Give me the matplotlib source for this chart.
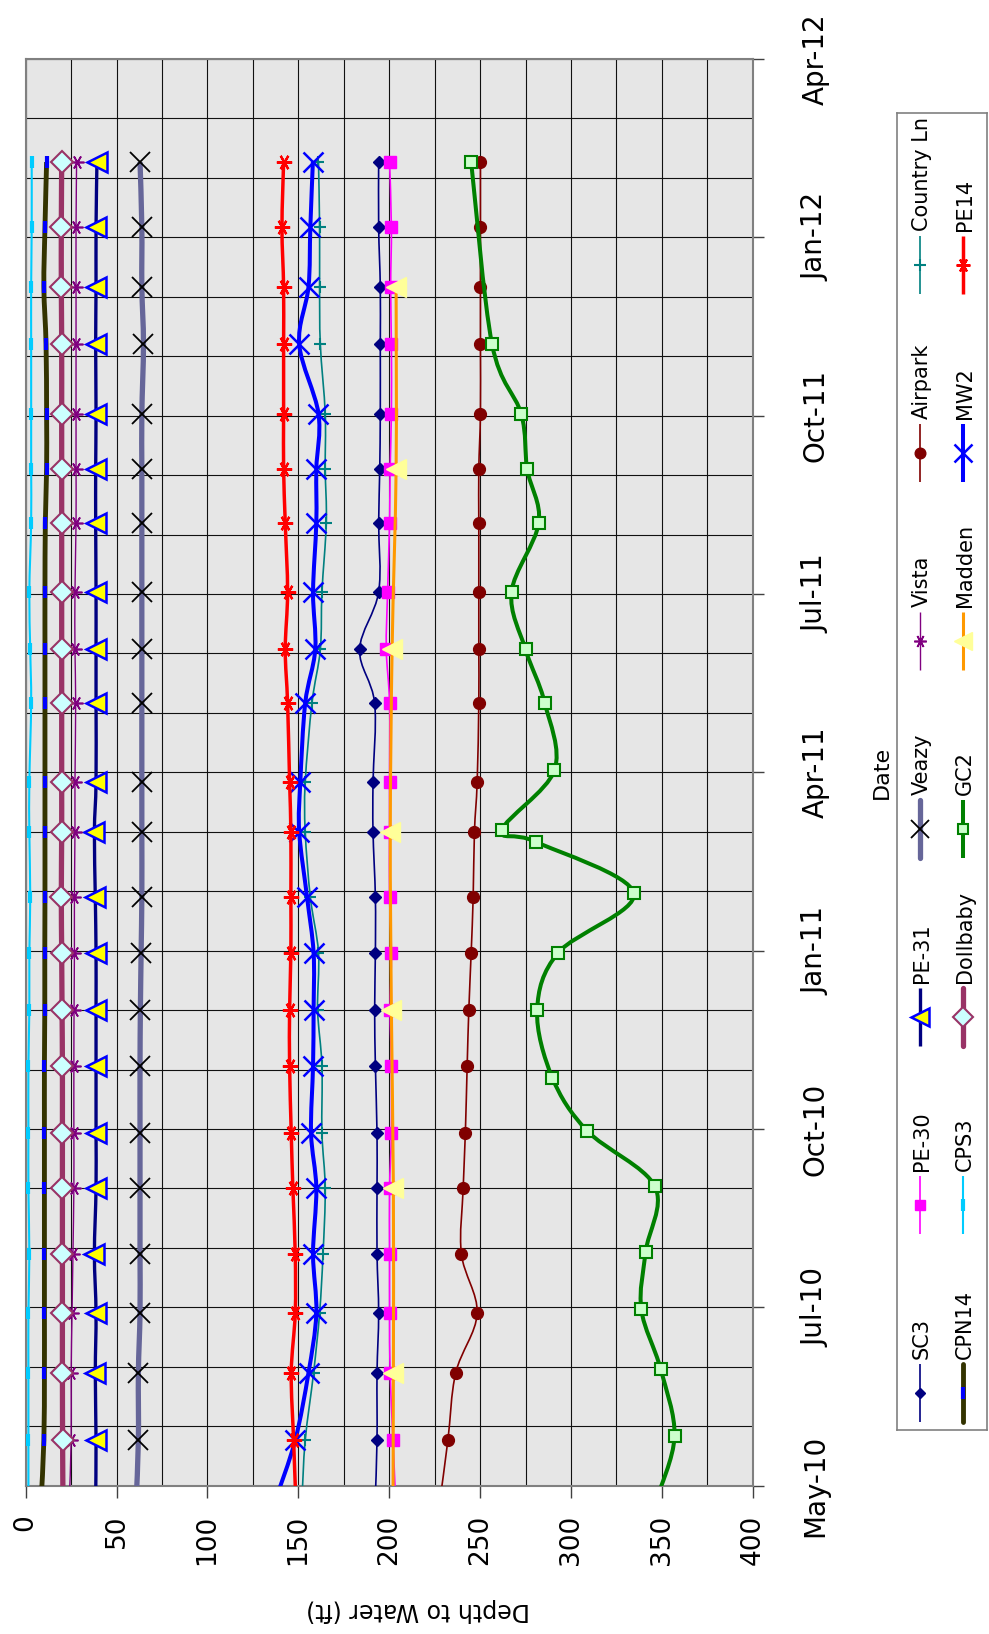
import numpy as np
import matplotlib
matplotlib.use("Agg")
import matplotlib.pyplot as plt
import matplotlib.dates as mdates
from matplotlib.path import Path
from matplotlib.patches import PathPatch
from matplotlib.ticker import FixedLocator, MultipleLocator

# ---------------- data ----------------
# common sampling dates (first one lies just before the visible axis range)
dates = ["2010-04-24", "2010-05-24", "2010-06-27", "2010-07-27", "2010-08-26",
         "2010-09-28", "2010-10-26", "2010-11-29", "2010-12-27", "2011-01-25",
         "2011-02-22", "2011-03-27", "2011-04-21", "2011-05-31", "2011-06-27",
         "2011-07-26", "2011-08-30", "2011-09-26", "2011-10-24", "2011-11-28",
         "2011-12-27", "2012-01-26", "2012-02-28"]

gc2_dates = ["2010-04-24", "2010-05-26", "2010-06-29", "2010-07-29", "2010-08-27",
             "2010-09-29", "2010-10-27", "2010-11-23", "2010-12-27", "2011-01-25",
             "2011-02-24", "2011-03-22", "2011-03-28", "2011-04-27", "2011-05-31",
             "2011-06-27", "2011-07-26", "2011-08-30", "2011-09-26", "2011-10-24",
             "2011-11-28", "2012-02-28"]

madden_dates = ["2010-03-28", "2010-06-27", "2010-09-28", "2010-12-27",
                "2011-03-27", "2011-06-27", "2011-09-26", "2011-12-27"]

sc3 = [192.3, 193.3, 193.3, 194.2, 193.3, 193.3, 193.3, 192.4, 192.0, 192.4, 192.4,
       191.1, 191.1, 192.0, 183.7, 194.2, 194.2, 194.8, 195.1, 195.1, 195.1, 194.2, 194.2]
pe30 = [203.5, 202.1, 200.5, 200.2, 200.2, 200.2, 201.2, 201.2, 200.5, 201.2, 200.2,
        200.2, 200.2, 200.2, 198.4, 199.1, 200.2, 200.5, 201.2, 201.2, 200.8, 201.2, 200.2]
pe31 = [38.5, 38.7, 38.3, 38.7, 37.8, 38.7, 38.7, 38.7, 38.7, 38.7, 38.3,
        37.8, 38.7, 38.7, 38.7, 38.7, 38.5, 38.5, 38.7, 38.5, 38.7, 38.7, 39.2]
veazy = [60.8, 62.0, 62.0, 62.9, 62.9, 62.9, 62.9, 62.9, 63.1, 63.5, 63.9,
         63.9, 63.9, 63.9, 63.9, 63.9, 63.9, 63.9, 63.9, 64.8, 63.9, 63.9, 62.9]
vista = [24.0, 25.0, 25.0, 25.5, 26.0, 26.5, 26.5, 26.5, 26.6, 26.8, 26.8,
         27.1, 27.1, 27.5, 27.1, 27.1, 27.7, 27.7, 27.7, 27.7, 27.7, 27.7, 28.0]
airpark = [228.0, 232.3, 236.6, 248.4, 239.7, 240.7, 241.9, 242.9, 243.8, 245.1, 246.2,
           246.9, 248.4, 249.3, 249.3, 249.3, 249.3, 249.3, 250.2, 250.2, 250.2, 250.2, 250.2]
country_ln = [152.0, 153.8, 158.4, 161.7, 163.6, 164.8, 163.0, 163.0, 160.6, 161.1, 156.6,
              153.8, 153.8, 157.5, 162.1, 163.0, 165.4, 164.8, 164.8, 162.1, 161.7, 161.7, 161.1]
cpn14 = [8.5, 10.0, 10.3, 10.3, 10.3, 10.3, 10.3, 10.3, 10.5, 10.5, 10.6,
         10.6, 10.6, 10.6, 10.6, 10.6, 10.8, 11.5, 11.5, 11.2, 10.0, 10.6, 11.5]
cps3 = [1.5, 1.5, 1.5, 1.5, 2.0, 1.5, 1.5, 1.5, 2.0, 2.0, 2.5,
        2.0, 2.0, 3.0, 2.5, 2.0, 3.0, 3.0, 3.0, 3.0, 3.0, 3.3, 3.3]
dollbaby = [20.5, 20.3, 20.2, 20.2, 20.2, 20.2, 20.2, 20.2, 20.0, 19.8, 19.6,
            19.8, 19.8, 19.8, 19.8, 19.8, 19.8, 19.8, 19.8, 19.8, 19.6, 19.6, 19.8]
gc2 = [347.0, 357.0, 349.3, 338.7, 341.1, 346.2, 309.0, 289.7, 281.4, 293.0, 334.6,
       280.5, 262.1, 290.9, 285.6, 275.0, 267.3, 282.3, 275.9, 272.6, 256.6, 245.1]
madden = [202.0, 202.3, 202.3, 201.2, 200.6, 201.6, 203.8, 203.8]
mw2 = [137.5, 148.3, 155.6, 159.9, 158.1, 159.9, 157.0, 158.1, 158.4, 158.4, 154.8,
       150.5, 151.1, 153.8, 159.3, 158.1, 159.9, 159.9, 161.1, 150.5, 155.6, 156.6, 158.0]
pe14 = [148.6, 147.4, 146.1, 148.3, 148.3, 147.0, 146.1, 145.2, 145.2, 145.9, 145.9,
        145.9, 145.2, 144.1, 142.8, 144.1, 142.8, 141.9, 141.9, 141.9, 141.9, 141.0, 141.9]

depth_ticks = [0, 50, 100, 150, 200, 250, 300, 350, 400]
axis_start = "2010-05-01"

# ---------------- styles ----------------
star = (6, 2, 90)
series = [
    ("SC3", dates, sc3, dict(color="#000080", lw=1.2, marker="D", ms=6.2, mfc="#000080", mec="#000080", mew=1)),
    ("PE-30", dates, pe30, dict(color="#FF00FF", lw=1.2, marker="s", ms=8.5, mfc="#FF00FF", mec="#FF00FF", mew=1)),
    ("PE-31", dates, pe31, dict(color="#000080", lw=2.4, marker="<", ms=14, mfc="#FFFF00", mec="#0000FF", mew=1.8)),
    ("Veazy", dates, veazy, dict(color="#666699", lw=3.8, marker="x", ms=14, mfc="black", mec="black", mew=1.3)),
    ("Vista", dates, vista, dict(color="#800080", lw=1.0, marker=star, ms=10, mfc="#800080", mec="#800080", mew=1.2)),
    ("Airpark", dates, airpark, dict(color="#800000", lw=1.2, marker="o", ms=8.5, mfc="#800000", mec="#800000", mew=1)),
    ("Country Ln", dates, country_ln, dict(color="#008080", lw=1.2, marker="+", ms=9, mfc="#008080", mec="#008080", mew=1.5)),
    ("CPN14", dates, cpn14, dict(color="#333300", lw=3.5, marker="|", ms=9, mfc="#0000FF", mec="#0000FF", mew=3)),
    ("CPS3", dates, cps3, dict(color="#00CCFF", lw=1.5, marker="|", ms=9, mfc="#00CCFF", mec="#00CCFF", mew=3)),
    ("Dollbaby", dates, dollbaby, dict(color="#993366", lw=3.8, marker="D", ms=11, mfc="#CCFFFF", mec="#993366", mew=1.5)),
    ("GC2", gc2_dates, gc2, dict(color="#008000", lw=2.9, marker="s", ms=8, mfc="#CCFFCC", mec="#008000", mew=1.5)),
    ("Madden", madden_dates, madden, dict(color="#FF9900", lw=2.2, marker="<", ms=15, mfc="#FFFF99", mec="#FFFF99", mew=1)),
    ("MW2", dates, mw2, dict(color="#0000FF", lw=2.9, marker="x", ms=15, mfc="#0000FF", mec="#0000FF", mew=1.8)),
    ("PE14", dates, pe14, dict(color="#FF0000", lw=2.5, marker=star, ms=11, mfc="#FF0000", mec="#FF0000", mew=1.6)),
]


def smooth_path(x, y):
    """Excel-like smoothed line: cubic Bezier through the points."""
    p = np.column_stack([x, y]).astype(float)
    n = len(p)
    verts = [p[0]]
    codes = [Path.MOVETO]
    for i in range(n - 1):
        p0 = p[max(i - 1, 0)]
        p1 = p[i]
        p2 = p[i + 1]
        p3 = p[min(i + 2, n - 1)]
        c1 = p1 + (p2 - p0) / 6.0
        c2 = p2 - (p3 - p1) / 6.0
        verts += [c1, c2, p2]
        codes += [Path.CURVE4] * 3
    return Path(verts, codes)


W, H = 989, 1634
fig = plt.figure(figsize=(W / 100, H / 100), dpi=100)
fig.patch.set_facecolor("white")

# plot area in pixel coordinates
L, R, T, B = 25.7, 752.7, 59.0, 1485.7
ax = fig.add_axes([L / W, 1 - B / H, (R - L) / W, (B - T) / H])
ax.set_facecolor("#E6E6E6")

ymin = mdates.date2num(np.datetime64(axis_start))
ymax = ymin + 720

for k, (name, dl, vals, st) in enumerate(series):
    t = mdates.date2num(np.array(dl, dtype="datetime64[D]"))
    v = np.array(vals, dtype=float)
    z = 3 + k * 0.1
    ax.add_patch(PathPatch(smooth_path(v, t), fill=False, edgecolor=st["color"],
                           lw=st["lw"], joinstyle="round", capstyle="butt", zorder=z))
    vis = t >= ymin
    ax.plot(v[vis], t[vis], linestyle="none", marker=st["marker"], ms=st["ms"],
            mfc=st["mfc"], mec=st["mec"], mew=st["mew"], zorder=z + 0.05)

ax.set_xlim(0, 400)
ax.set_ylim(ymin, ymax)

ax.xaxis.set_major_locator(FixedLocator(depth_ticks))
ax.xaxis.set_minor_locator(MultipleLocator(25))
ax.yaxis.set_major_locator(FixedLocator(np.arange(ymin, ymax + 1, 90)))
ax.yaxis.set_minor_locator(FixedLocator(np.arange(ymin, ymax + 1, 30)))
ax.yaxis.set_major_formatter(mdates.DateFormatter("%b-%y"))

ax.set_axisbelow(True)
ax.grid(True, which="both", color="#111111", lw=0.8)

ax.tick_params(axis="x", which="major", direction="out", length=8.4, width=1,
               color="#404040", labelsize=19, labelrotation=90, pad=12.5,
               bottom=True, top=False)
ax.tick_params(axis="y", which="major", direction="out", length=8.2, width=1,
               color="#404040", labelsize=20, labelrotation=90, pad=27,
               left=False, right=True, labelleft=False, labelright=True)
ax.tick_params(which="minor", length=0)
for lab in ax.get_yticklabels():
    lab.set_va("center")

for sp in ax.spines.values():
    sp.set_color("#808080")
    sp.set_linewidth(1.5)

ax.set_xlabel("Depth to Water (ft)", fontsize=17, rotation=180)
ax.xaxis.set_label_coords(0.54, (B - 1610) / (B - T))
ax.xaxis.label.set_va("center")
ax.xaxis.label.set_ha("center")

ax.yaxis.set_label_position("right")
ax.set_ylabel("Date", fontsize=16, rotation=90)
ax.yaxis.set_label_coords((882 - L) / (R - L), 0.5)
ax.yaxis.label.set_va("center")
ax.yaxis.label.set_ha("center")

# ---------------- legend (rotated, built by hand) ----------------
LL, LR, LT, LB = 897.3, 987.0, 112.5, 1430.0
lax = fig.add_axes([LL / W, 1 - LB / H, (LR - LL) / W, (LB - LT) / H])
lax.set_xlim(LL, LR)
lax.set_ylim(LB, LT)
lax.set_xticks([])
lax.set_yticks([])
lax.set_facecolor("white")
for sp in lax.spines.values():
    sp.set_color("#808080")
    sp.set_linewidth(1.2)

col_x = [920.0, 963.0]
for k, (name, dl, vals, st) in enumerate(series):
    c, r = divmod(k, 7)
    xc = col_x[c]
    yb = 1422.0 - r * 188.0
    lax.plot([xc, xc], [yb, yb - 58], color=st["color"], lw=st["lw"],
             solid_capstyle="round" if st["lw"] > 3 else "butt")
    lax.plot([xc], [yb - 29], linestyle="none", marker=st["marker"], ms=st["ms"] * 0.9,
             mfc=st["mfc"], mec=st["mec"], mew=st["mew"])
    lax.text(xc + 1.5, yb - 63, name, rotation=90, ha="center", va="bottom",
             fontsize=15, color="black")

fig.savefig("out.png", dpi=100)
